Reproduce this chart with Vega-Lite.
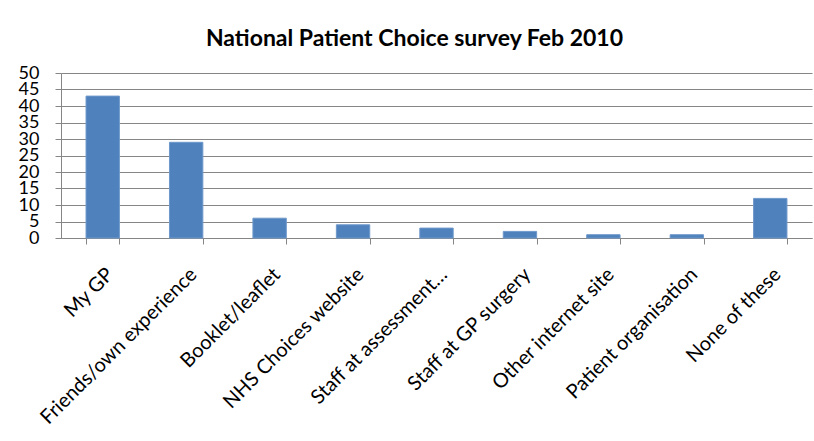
{
  "$schema": "https://vega.github.io/schema/vega-lite/v6.json",
  "width": 751,
  "height": 165,
  "autosize": {"type": "none"},
  "padding": {"left": 61, "top": 73, "right": 2, "bottom": 203},
  "background": "white",
  "title": {
    "text": "National Patient Choice survey Feb 2010",
    "font": "Lato",
    "fontSize": 23,
    "fontWeight": "bold",
    "color": "#000000",
    "anchor": "middle",
    "baseline": "alphabetic",
    "offset": 28,
    "dx": -22,
    "dy": 33
  },
  "data": {
    "values": [
      {"source": "My GP", "percent": 43},
      {"source": "Friends/own experience", "percent": 29},
      {"source": "Booklet/leaflet", "percent": 6},
      {"source": "NHS Choices website", "percent": 4},
      {"source": "Staff at assessment…", "percent": 3},
      {"source": "Staff at GP surgery", "percent": 2},
      {"source": "Other internet site", "percent": 1},
      {"source": "Patient organisation", "percent": 1},
      {"source": "None of these", "percent": 12}
    ]
  },
  "mark": {"type": "bar", "color": "#4F81BD", "stroke": "#6E98CB", "strokeWidth": 1},
  "encoding": {
    "x": {
      "field": "source",
      "type": "nominal",
      "sort": null,
      "scale": {"paddingInner": 0.6, "paddingOuter": 0.3},
      "axis": {
        "title": null,
        "labelAngle": -45,
        "labelFont": "Lato",
        "labelFontSize": 20,
        "labelColor": "#000000",
        "labelPadding": 20,
        "tickBand": "extent",
        "tickSize": 6,
        "tickColor": "#868686",
        "domainColor": "#868686",
        "labelLimit": 400,
        "labelOverlap": false,
        "grid": false
      }
    },
    "y": {
      "field": "percent",
      "type": "quantitative",
      "scale": {"domain": [0, 50], "nice": false},
      "axis": {
        "title": null,
        "values": [0, 5, 10, 15, 20, 25, 30, 35, 40, 45, 50],
        "labelFont": "Lato",
        "labelFontSize": 18,
        "labelColor": "#000000",
        "labelPadding": 16,
        "labelOverlap": false,
        "labelFlush": false,
        "tickSize": 6,
        "tickColor": "#868686",
        "domainColor": "#868686",
        "gridColor": "#868686",
        "gridOpacity": 1,
        "grid": true
      }
    }
  },
  "config": {
    "view": {"stroke": null}
  }
}
